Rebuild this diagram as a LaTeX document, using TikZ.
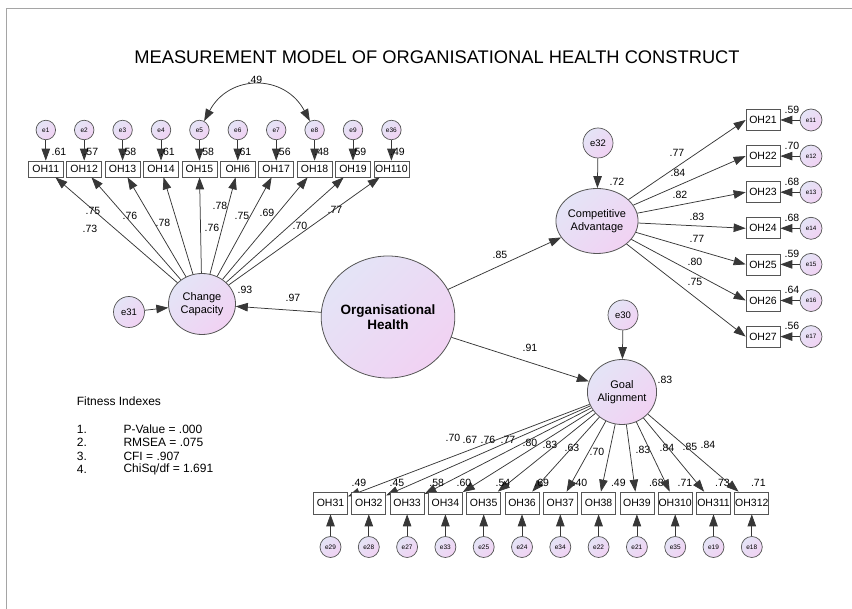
\documentclass[tikz,border=0pt]{standalone}
\usepackage{fontspec}
\setmainfont{Liberation Sans}
\usetikzlibrary{arrows.meta,shapes.geometric}
\definecolor{lineC}{RGB}{55,55,55}
\definecolor{edgeC}{RGB}{85,85,85}
\definecolor{shadeA}{RGB}{228,228,246}
\definecolor{shadeB}{RGB}{241,210,243}
\definecolor{frameC}{RGB}{165,165,165}
\begin{document}
\begin{tikzpicture}[x=1pt,y=-1pt,
  latent/.style={ellipse, draw=edgeC, line width=0.8pt, top color=shadeA, bottom color=shadeB,
    shading angle=45, inner sep=0pt, align=center, font=\fontsize{11}{12.5}\selectfont},
  err/.style={circle, draw=edgeC, line width=0.7pt, top color=shadeA, bottom color=shadeB,
    shading angle=45, inner sep=0pt, minimum size=19.5pt, font=\fontsize{6.5}{7}\selectfont},
  bigerr/.style={err, minimum size=30pt, font=\fontsize{9.5}{10}\selectfont},
  obs/.style={rectangle, draw=edgeC, line width=0.7pt, fill=white, inner sep=0pt,
    minimum width=35pt, minimum height=16pt, font=\fontsize{10.5}{11}\selectfont},
  obsb/.style={obs, minimum width=34pt, minimum height=21pt},
  arr/.style={draw=lineC, line width=0.75pt, -{Triangle[length=12pt,width=8.5pt]}},
  cov/.style={draw=lineC, line width=0.75pt, {Triangle[length=12pt,width=8.5pt]}-{Triangle[length=12pt,width=8.5pt]}},
  lbl/.style={inner sep=0pt, font=\fontsize{10.5}{11}\selectfont},
  txt/.style={inner sep=0pt, anchor=west, font=\fontsize{12}{13}\selectfont}]

\useasboundingbox (0,0) rectangle (852,609);
\draw[frameC, line width=0.9pt] (852,8.3) -- (6,8.3) -- (6,609);

\node[inner sep=0pt, font=\fontsize{18.3}{20}\selectfont] (title) at (437,57)
  {MEASUREMENT MODEL OF ORGANISATIONAL HEALTH CONSTRUCT};

% latent constructs
\node[latent, minimum width=133pt, minimum height=122pt,
      font=\bfseries\fontsize{13.5}{15.5}\selectfont] (oh) at (388,317) {Organisational\\Health};
\node[latent, minimum width=67pt, minimum height=61pt] (cc) at (202,304) {Change\\Capacity};
\node[latent, minimum width=66pt, minimum height=65pt] (ca) at (597,221) {Competitive\\Advantage};
\node[latent, minimum width=67pt, minimum height=65pt] (ga) at (622,392) {Goal\\Alignment};

% disturbances of the first-order factors
\node[bigerr, minimum size=31pt] (e31) at (129,312) {e31};
\node[bigerr] (e32) at (598,143) {e32};
\node[bigerr] (e30) at (623,315) {e30};
\draw[arr] (e31) -- (cc);
\draw[arr] (e32) -- (ca);
\draw[arr] (e30) -- (ga);
\node[lbl] (r93) at (245,290) {.93};
\node[lbl] (r72) at (617,182) {.72};
\node[lbl] (r83) at (665,380) {.83};

% second-order paths
\draw[arr] (oh) -- (cc);
\draw[arr] (oh) -- (ca);
\draw[arr] (oh) -- (ga);
\node[lbl] (p97) at (293,298) {.97};
\node[lbl] (p85) at (500,255) {.85};
\node[lbl] (p91) at (530,348) {.91};

% Change Capacity indicators
\foreach \txtb/\en/\rr/\rx [count=\i from 0] in
  {OH11/e1/.61/59, OH12/e2/.57/90.8, OH13/e3/.58/129, OH14/e4/.61/167.5,
   OH15/e5/.58/206.7, OHI6/e6/.61/244, OH17/e7/.56/283.3, OH18/e8/.48/321.7,
   OH19/e9/.59/359, OH110/e36/.49/397.5} {
  \node[obs] (t\i) at ({45.8+38.4*\i},169) {\txtb};
  \node[err] (te\i) at ({45.8+38.4*\i},130) {\en};
  \draw[arr] (te\i) -- (t\i);
  \draw[arr] (cc) -- (t\i);
  \node[lbl] (tr\i) at (\rx,152) {\rr};
}
\foreach \lv/\lx/\ly [count=\i] in
  {.75/93/211, .73/90/229, .76/130/216, .78/163/223, .78/220/206,
   .76/212/228, .75/242/216, .69/267/213, .70/300/226, .77/335/210}
  \node[lbl] (tl\i) at (\lx,\ly) {\lv};
\draw[cov] (te4) to[out=62,in=118,looseness=1.3] (te7);
\node[lbl] (c49) at (255,80) {.49};

% Competitive Advantage indicators
\foreach \txtb/\en/\rr/\lv/\lx/\ly [count=\i from 0] in
  {OH21/e11/.59/.77/677/153, OH22/e12/.70/.84/678/173, OH23/e13/.68/.82/680/195,
   OH24/e14/.68/.83/697/217, OH25/e15/.59/.77/697/239, OH26/e16/.64/.80/695/262,
   OH27/e17/.56/.75/695/282} {
  \node[obsb] (r\i) at (763,{120+36.1*\i}) {\txtb};
  \node[err, minimum size=22pt, font=\fontsize{6.3}{7}\selectfont] (re\i) at (811,{120+36.1*\i}) {\en};
  \draw[arr] (re\i) -- (r\i);
  \draw[arr] (ca) -- (r\i.west);
  \node[lbl] (rr\i) at (792,{109.5+36.1*\i}) {\rr};
  \node[lbl] (rl\i) at (\lx,\ly) {\lv};
}

% Goal Alignment indicators
\foreach \txtb/\en/\rr/\rx/\lv/\lx/\ly [count=\i from 0] in
  {OH31/e29/.49/359/.70/453/438, OH32/e28/.45/397/.67/470/440,
   OH33/e27/.58/436.7/.76/488/440, OH34/e33/.60/464/.77/508/440,
   OH35/e25/.54/503/.80/530/443, OH36/e24/.69/541.7/.83/550/445,
   OH37/e34/.40/580/.63/572/448, OH38/e22/.49/618.3/.70/597/452,
   OH39/e21/.68/656.3/.83/643/450, OH310/e35/.71/685/.84/667/448,
   OH311/e19/.73/722.5/.85/690/447, OH312/e18/.71/758.3/.84/708/445} {
  \node[obsb, minimum height=22pt] (b\i) at ({330.5+38.3*\i},503) {\txtb};
  \node[err, minimum size=21pt] (be\i) at ({330.5+38.3*\i},547) {\en};
  \draw[arr] (be\i) -- (b\i);
  \draw[arr] (ga) -- (b\i);
  \node[lbl] (br\i) at (\rx,483) {\rr};
  \node[lbl] (bl\i) at (\lx,\ly) {\lv};
}

% fit statistics
\node[txt] (fit) at (76.7,401) {Fitness Indexes};
\foreach \n/\s [count=\i from 0] in
  {{1.}/{P-Value = .000}, {2.}/{RMSEA = .075}, {3.}/{CFI = .907}, {4.}/{ChiSq/df = 1.691}} {
  \node[txt] (fn\i) at (76.7,{429.3+13.4*\i}) {\n};
  \node[txt] (fs\i) at (123.3,{429.3+13.4*\i}) {\s};
}
\end{tikzpicture}
\end{document}
